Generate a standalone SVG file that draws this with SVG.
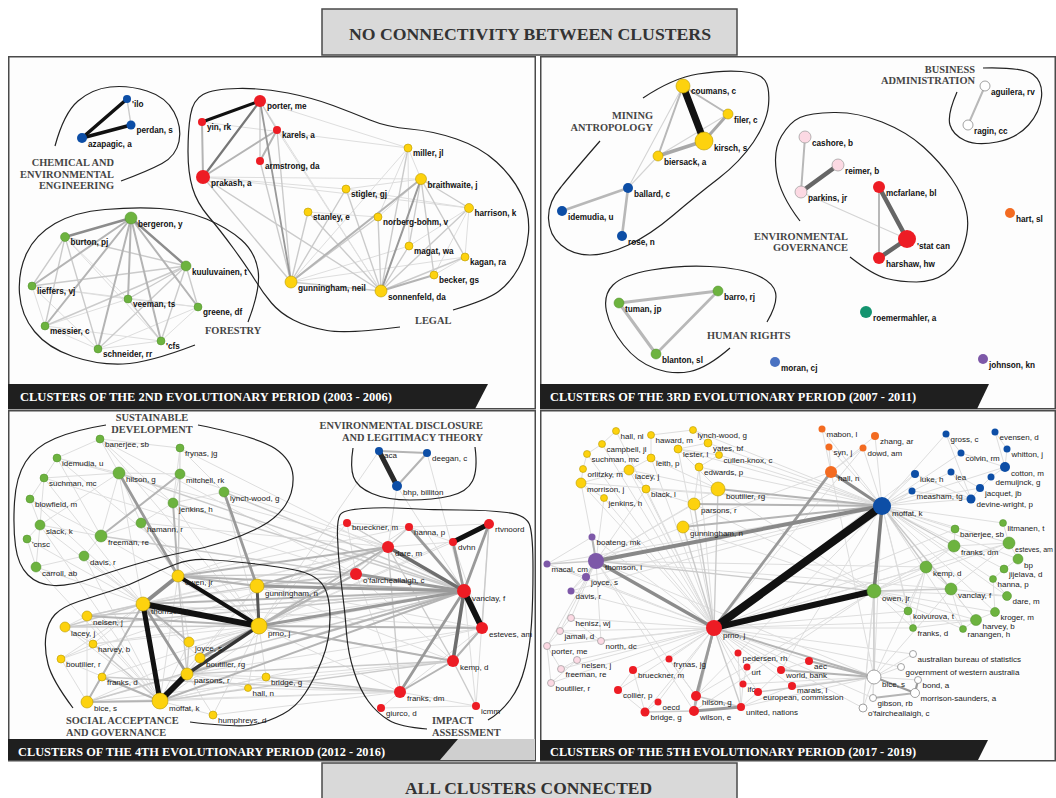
<svg xmlns="http://www.w3.org/2000/svg" width="1056" height="798" viewBox="0 0 1056 798">
<style>
.frame{fill:#fdfdfd;stroke:#4a4a4a;stroke-width:1.5}
.bar{fill:#1f1f1f}
.barend{fill:#cfcfcf}
.head{fill:#d9d9d9;stroke:#4a4a4a;stroke-width:1.5}
.ht{font-family:"Liberation Serif",serif;font-weight:bold;font-size:17px;fill:#333}
.ft{font-family:"Liberation Serif",serif;font-weight:bold;font-size:11.5px;fill:#fff}
.cl{font-family:"Liberation Serif",serif;font-weight:bold;font-size:10.4px;fill:#454545}
.hull{fill:none;stroke:#222;stroke-width:1.2}
.nb text{font-family:"Liberation Sans",Arial,sans-serif;font-weight:bold;font-size:8.2px;fill:#111}
.nr text{font-family:"Liberation Sans",Arial,sans-serif;font-size:8px;fill:#1a1a1a}
.y{fill:#fdd20e;stroke:#b99a00;stroke-width:.6}
.r{fill:#ed1c24}
.g{fill:#6db33f;stroke:#4f8f2a;stroke-width:.5}
.b{fill:#0d4ea6}
.lb{fill:#4a72c2}
.pk{fill:#fcd9e3;stroke:#9a9a9a;stroke-width:.7}
.w{fill:#fff;stroke:#8a8a8a;stroke-width:.8}
.o{fill:#f36b21}
.p{fill:#7d58a8}
.t{fill:#14946f}
.edges{fill:none;stroke-linecap:round}
.l1{stroke:#dedede;stroke-width:1}
.l2{stroke:#cbcbcb;stroke-width:1.4}
.l3{stroke:#b4b4b4;stroke-width:2}
.l4{stroke:#9a9a9a;stroke-width:2.8}
.l5{stroke:#6e6e6e;stroke-width:3.6}
.k{stroke:#111}
</style>

<rect width="1056" height="798" fill="#fff"/>

<!-- panel frames -->
<rect class="frame" x="8.75" y="56.75" width="526.5" height="352"/>
<rect class="frame" x="540.75" y="56.75" width="514.5" height="352"/>
<rect class="frame" x="8.75" y="410.75" width="526.5" height="350"/>
<rect class="frame" x="540.75" y="410.75" width="514.5" height="350"/>

<!-- headers -->
<g id="header-top">
<rect class="head" x="322" y="9" width="415" height="46"/>
<text class="ht" x="349" y="40" textLength="362" lengthAdjust="spacingAndGlyphs">NO CONNECTIVITY BETWEEN CLUSTERS</text>
</g>
<g id="header-bottom">
<rect class="head" x="322" y="763" width="415" height="40"/>
<text class="ht" x="405" y="794" textLength="247" lengthAdjust="spacingAndGlyphs">ALL CLUSTERS CONNECTED</text>
</g>

<!-- ===== connectors ===== -->
<g id="connectors" class="edges">
<!-- period 2 -->
<g id="edges-p2">
<g class="l1">
<path d="M203 177L469 208"/><path d="M203 177L346 189"/><path d="M202 122L408 148"/><path d="M260 101L408 148"/><path d="M260 101L381 291"/><path d="M203 177L421 179"/><path d="M291 282L465 257"/><path d="M308 212L378 217"/><path d="M408 148L378 217"/><path d="M408 148L409 246"/><path d="M346 189L469 208"/><path d="M469 208L465 257"/><path d="M469 208L434 275"/><path d="M469 208L409 246"/><path d="M465 257L434 275"/><path d="M291 282L409 246"/><path d="M291 282L408 148"/><path d="M421 179L346 189"/><path d="M421 179L378 217"/><path d="M421 179L408 148"/><path d="M277 130L381 291"/>
<path d="M32 286L198 307"/><path d="M32 286L45 326"/><path d="M32 286L128 299"/><path d="M32 286L98 349"/><path d="M45 326L128 299"/><path d="M45 326L98 349"/><path d="M45 326L161 341"/><path d="M98 349L161 341"/><path d="M98 349L198 307"/><path d="M161 341L198 307"/><path d="M128 299L198 307"/><path d="M65 237L161 341"/><path d="M65 237L128 299"/>
</g>
<g class="l2">
<path d="M277 130L291 282"/><path d="M260 161L291 282"/><path d="M203 177L291 282"/><path d="M203 177L381 291"/><path d="M291 282L381 291"/><path d="M291 282L346 189"/><path d="M291 282L378 217"/><path d="M381 291L408 148"/><path d="M381 291L346 189"/><path d="M381 291L308 212"/><path d="M381 291L378 217"/><path d="M381 291L409 246"/><path d="M381 291L465 257"/><path d="M381 291L469 208"/><path d="M421 179L469 208"/><path d="M421 179L409 246"/><path d="M421 179L465 257"/><path d="M421 179L434 275"/><path d="M308 212L291 282"/>
<path d="M65 237L186 266"/><path d="M65 237L32 286"/><path d="M65 237L45 326"/><path d="M65 237L98 349"/><path d="M186 266L32 286"/><path d="M186 266L128 299"/><path d="M186 266L45 326"/><path d="M186 266L98 349"/><path d="M186 266L161 341"/><path d="M186 266L198 307"/><path d="M128 299L161 341"/>
<path d="M127 99L131 125"/><path d="M260 101L277 130"/><path d="M260 101L260 161"/>
</g>
<g class="l3">
<path d="M202 122L203 177"/><path d="M277 130L203 177"/><path d="M277 130L260 161"/><path d="M291 282L421 179"/><path d="M381 291L434 275"/><path d="M131 218L32 286"/><path d="M131 218L45 326"/><path d="M131 218L128 299"/><path d="M131 218L198 307"/><path d="M131 218L161 341"/><path d="M131 218L98 349"/>
</g>
<path d="M260 101L291 282" stroke="#999" stroke-width="1.8"/>
<path d="M260 101L203 177" stroke="#777" stroke-width="2.2"/>
<path d="M381 291L421 179" stroke="#999" stroke-width="2"/>
<path d="M131 218L65 237" stroke="#8c8c8c" stroke-width="2.4"/>
<path d="M131 218L186 266" stroke="#8c8c8c" stroke-width="2.4"/>
<g class="k">
<path d="M260 101L202 122" stroke-width="3"/>
<path d="M127 99L82 138" stroke-width="3.5"/>
<path d="M131 125L82 138" stroke-width="3.5"/>
</g>
</g>

<!-- period 3 -->
<g id="edges-p3">
<g stroke="#d4d4d4" stroke-width="1.1">
<path d="M683 86L628 188"/><path d="M658 156L628 188"/><path d="M728 114L658 156"/><path d="M801 192L907 239"/>
</g>
<g stroke="#b8b8b8">
<path d="M683 86L728 114" stroke-width="2"/><path d="M683 86L658 156" stroke-width="2"/><path d="M628 188L562 211" stroke-width="2.6"/><path d="M628 188L622 236" stroke-width="2.6"/><path d="M619 303L718 291" stroke-width="3"/><path d="M619 303L656 354" stroke-width="3"/><path d="M718 291L656 354" stroke-width="2.6"/><path d="M805 137L801 192" stroke-width="2"/><path d="M879 187L879 258" stroke-width="2"/><path d="M985 86L968 125" stroke-width="2"/>
</g>
<path d="M728 114L704 141" stroke="#a8a8a8" stroke-width="3"/>
<path d="M704 141L658 156" stroke="#a8a8a8" stroke-width="3.5"/>
<g stroke="#666" stroke-width="4.5">
<path d="M801 192L838 165"/><path d="M879 187L907 239"/><path d="M879 258L907 239"/>
</g>
<path class="k" d="M683 86L704 141" stroke-width="7"/>
</g>

<!-- period 4 -->
<g id="edges-p4">
<g class="l1">
<path d="M100 439L180 448"/><path d="M100 439L57 458"/><path d="M100 439L119 473"/><path d="M57 458L119 473"/><path d="M57 458L44 478"/><path d="M44 478L30 499"/><path d="M44 478L119 473"/><path d="M119 473L180 474"/><path d="M119 473L173 503"/><path d="M119 473L141 523"/><path d="M119 473L40 525"/><path d="M119 473L101 536"/><path d="M180 448L180 474"/><path d="M180 448L173 503"/><path d="M180 474L173 503"/><path d="M173 503L141 523"/><path d="M141 523L101 536"/><path d="M40 525L101 536"/><path d="M40 525L30 499"/><path d="M40 525L27 539"/><path d="M27 539L36 567"/><path d="M36 567L84 556"/><path d="M84 556L101 536"/><path d="M30 499L101 536"/><path d="M100 439L173 503"/><path d="M57 458L101 536"/><path d="M44 478L40 525"/><path d="M36 567L40 525"/><path d="M224 492L180 448"/><path d="M224 492L173 503"/>
<path d="M84 556L143 604"/><path d="M36 567L143 604"/><path d="M40 525L143 604"/><path d="M224 492L259 626"/><path d="M180 448L178 576"/><path d="M100 439L259 626"/><path d="M57 458L259 626"/><path d="M30 499L143 604"/><path d="M44 478L143 604"/><path d="M27 539L143 604"/><path d="M141 523L259 626"/><path d="M101 536L259 626"/><path d="M84 556L160 701"/><path d="M36 567L160 701"/><path d="M40 525L160 701"/><path d="M119 473L160 701"/><path d="M173 503L259 626"/>
<path d="M180 448L464 591"/><path d="M180 474L388 547"/><path d="M141 523L388 547"/><path d="M100 439L356 574"/><path d="M57 458L388 547"/><path d="M44 478L356 574"/>
<path d="M143 604L93 644"/><path d="M143 604L61 659"/><path d="M143 604L102 677"/><path d="M143 604L200 658"/><path d="M259 626L93 644"/><path d="M259 626L189 642"/><path d="M259 626L266 677"/><path d="M259 626L248 688"/><path d="M259 626L87 702"/><path d="M259 626L102 677"/><path d="M259 626L213 715"/><path d="M160 701L87 616"/><path d="M160 701L65 627"/><path d="M160 701L61 659"/><path d="M160 701L189 642"/><path d="M160 701L200 658"/><path d="M160 701L213 715"/><path d="M160 701L248 688"/><path d="M160 701L266 677"/><path d="M187 674L200 658"/><path d="M187 674L213 715"/><path d="M187 674L266 677"/><path d="M187 674L248 688"/><path d="M187 674L87 702"/><path d="M178 576L160 701"/><path d="M178 576L189 642"/><path d="M257 586L187 674"/><path d="M257 586L160 701"/><path d="M87 616L65 627"/><path d="M65 627L93 644"/><path d="M93 644L61 659"/><path d="M102 677L87 702"/><path d="M87 702L61 659"/><path d="M87 616L87 702"/>
<path d="M259 626L409 527"/><path d="M259 626L347 523"/><path d="M259 626L489 524"/><path d="M259 626L453 542"/><path d="M259 626L400 692"/><path d="M143 604L388 547"/><path d="M143 604L356 574"/><path d="M143 604L453 661"/><path d="M143 604L482 628"/><path d="M160 701L400 692"/><path d="M160 701L482 628"/><path d="M160 701L388 547"/><path d="M178 576L409 527"/><path d="M178 576L347 523"/><path d="M257 586L453 661"/><path d="M257 586L482 628"/><path d="M187 674L482 628"/><path d="M187 674L400 692"/><path d="M87 616L388 547"/><path d="M87 702L453 661"/><path d="M93 644L464 591"/><path d="M189 642L464 591"/><path d="M266 677L453 661"/><path d="M248 688L400 692"/><path d="M61 659L388 547"/><path d="M213 715L400 692"/><path d="M87 702L400 692"/>
<path d="M347 523L409 527"/><path d="M347 523L356 574"/><path d="M388 547L453 542"/><path d="M409 527L453 542"/><path d="M347 523L464 591"/><path d="M400 692L482 628"/><path d="M400 692L356 574"/><path d="M381 708L400 692"/><path d="M381 708L476 706"/><path d="M476 706L400 692"/><path d="M476 706L464 591"/><path d="M489 524L476 706"/><path d="M356 574L453 661"/><path d="M409 527L489 524"/><path d="M453 542L482 628"/><path d="M397 486L464 591"/><path d="M397 486L388 547"/><path d="M379 451L259 626"/><path d="M427 453L464 591"/>
</g>
<g class="l2">
<path d="M143 604L87 616"/><path d="M143 604L65 627"/><path d="M259 626L65 627"/><path d="M160 701L93 644"/><path d="M178 576L187 674"/><path d="M257 586L143 604"/><path d="M187 674L189 642"/><path d="M178 576L356 574"/><path d="M257 586L356 574"/><path d="M160 701L453 661"/><path d="M187 674L453 661"/><path d="M87 616L464 591"/><path d="M65 627L464 591"/><path d="M87 702L464 591"/><path d="M200 658L464 591"/><path d="M102 677L400 692"/><path d="M266 677L400 692"/><path d="M347 523L388 547"/><path d="M409 527L388 547"/><path d="M388 547L356 574"/><path d="M400 692L388 547"/><path d="M476 706L453 661"/><path d="M489 524L482 628"/><path d="M388 547L453 661"/><path d="M180 474L178 576"/><path d="M141 523L178 576"/><path d="M101 536L464 591"/><path d="M119 473L464 591"/><path d="M173 503L464 591"/><path d="M224 492L464 591"/>
</g>
<g class="l3">
<path d="M143 604L189 642"/><path d="M259 626L87 616"/><path d="M160 701L102 677"/><path d="M160 701L87 702"/><path d="M143 604L464 591"/><path d="M160 701L464 591"/><path d="M178 576L464 591"/><path d="M187 674L464 591"/><path d="M257 586L388 547"/><path d="M178 576L388 547"/><path d="M259 626L388 547"/><path d="M259 626L356 574"/><path d="M259 626L453 661"/><path d="M259 626L482 628"/><path d="M453 661L482 628"/><path d="M400 692L453 661"/><path d="M173 503L178 576"/><path d="M101 536L180 474"/><path d="M178 576L257 586"/><path d="M379 451L427 453"/><path d="M427 453L397 486"/><path d="M143 604L87 702"/>
</g>
<g class="l4">
<path d="M178 576L143 604" stroke-width="4" stroke="#8a8a8a"/><path d="M119 473L178 576"/><path d="M224 492L257 586"/><path d="M259 626L464 591"/><path d="M257 586L464 591"/><path d="M143 604L187 674"/><path d="M259 626L200 658"/><path d="M453 542L464 591"/><path d="M489 524L464 591"/><path d="M409 527L464 591"/><path d="M356 574L464 591"/><path d="M400 692L464 591"/>
</g>
<g class="l5">
<path d="M388 547L464 591"/><path d="M464 591L453 661"/><path d="M257 586L259 626" stroke="#555" stroke-width="3"/><path d="M187 674L259 626" stroke="#333" stroke-width="3.5"/>
</g>
<g class="k">
<path d="M143 604L259 626" stroke-width="6"/><path d="M143 604L160 701" stroke-width="5"/><path d="M160 701L187 674" stroke-width="6"/><path d="M178 576L259 626" stroke-width="4"/><path d="M464 591L482 628" stroke-width="6"/><path d="M453 542L489 524" stroke-width="5"/><path d="M379 451L397 486" stroke-width="5" stroke="#2a2a2a"/>
</g>
</g>

<!-- period 5 -->
<g id="edges-p5">
<g class="l1">
<path d="M714 628L581 483"/><path d="M714 628L629 470"/><path d="M714 628L646 489"/><path d="M714 628L651 458"/><path d="M714 628L678 449"/><path d="M714 628L699 467"/><path d="M714 628L616 431"/><path d="M714 628L602 444"/><path d="M714 628L587 454"/><path d="M714 628L604 498"/><path d="M714 628L571 618"/><path d="M714 628L560 631"/><path d="M714 628L601 641"/><path d="M714 628L547 646"/><path d="M714 628L577 660"/><path d="M714 628L561 669"/><path d="M714 628L551 683"/><path d="M714 628L571 591"/><path d="M714 628L586 577"/><path d="M714 628L592 537"/><path d="M714 628L547 564"/><path d="M714 628L618 690"/><path d="M714 628L645 712"/><path d="M714 628L658 702"/><path d="M714 628L926 567"/><path d="M714 628L954 546"/><path d="M714 628L1009 543"/><path d="M714 628L955 529"/><path d="M714 628L908 611"/><path d="M714 628L913 628"/><path d="M714 628L976 620"/><path d="M714 628L863 708"/><path d="M714 628L873 698"/><path d="M714 628L901 667"/><path d="M714 628L913 654"/><path d="M714 628L863 448"/><path d="M714 628L915 474"/><path d="M714 628L912 491"/><path d="M714 628L809 661"/><path d="M714 628L792 686"/><path d="M714 628L758 692"/><path d="M714 628L738 653"/><path d="M714 628L669 659"/><path d="M714 628L633 670"/><path d="M714 628L781 670"/><path d="M714 628L743 684"/>
<path d="M882 506L1005 467"/><path d="M882 506L971 499"/><path d="M882 506L980 488"/><path d="M882 506L915 474"/><path d="M882 506L912 491"/><path d="M882 506L951 472"/><path d="M882 506L946 434"/><path d="M882 506L961 453"/><path d="M882 506L875 436"/><path d="M882 506L863 448"/><path d="M882 506L829 447"/><path d="M882 506L822 429"/><path d="M882 506L678 449"/><path d="M882 506L699 467"/><path d="M882 506L719 455"/><path d="M882 506L708 443"/><path d="M882 506L693 430"/><path d="M882 506L646 489"/><path d="M882 506L581 483"/><path d="M882 506L547 564"/><path d="M882 506L586 577"/><path d="M882 506L571 591"/><path d="M882 506L874 677"/><path d="M882 506L1009 543"/><path d="M882 506L1003 523"/><path d="M882 506L955 529"/><path d="M882 506L1018 559"/><path d="M882 506L976 620"/><path d="M882 506L995 612"/><path d="M882 506L908 611"/><path d="M882 506L1007 596"/><path d="M882 506L993 579"/><path d="M882 506L1004 569"/><path d="M882 506L913 628"/><path d="M882 506L963 629"/><path d="M882 506L863 708"/><path d="M882 506L781 670"/><path d="M882 506L696 696"/>
<path d="M874 591L926 567"/><path d="M874 591L954 546"/><path d="M874 591L1009 543"/><path d="M874 591L976 620"/><path d="M874 591L908 611"/><path d="M874 591L913 628"/><path d="M874 591L696 696"/><path d="M874 591L694 711"/><path d="M874 591L694 504"/><path d="M874 591L718 489"/><path d="M874 591L683 527"/><path d="M874 591L1007 596"/><path d="M874 591L995 612"/><path d="M874 591L963 629"/><path d="M874 591L863 708"/><path d="M874 591L873 698"/>
<path d="M596 561L571 591"/><path d="M596 561L683 527"/><path d="M596 561L694 504"/><path d="M596 561L718 489"/><path d="M596 561L581 483"/><path d="M596 561L646 489"/><path d="M596 561L604 498"/><path d="M596 561L696 696"/><path d="M596 561L694 711"/><path d="M596 561L951 589"/><path d="M596 561L926 567"/><path d="M596 561L874 677"/><path d="M596 561L571 618"/><path d="M596 561L601 641"/><path d="M596 561L560 631"/><path d="M596 561L547 646"/>
<path d="M874 677L913 654"/><path d="M874 677L901 667"/><path d="M874 677L918 680"/><path d="M874 677L873 698"/><path d="M874 677L863 708"/><path d="M874 677L792 686"/><path d="M874 677L741 707"/><path d="M874 677L743 684"/><path d="M874 677L951 589"/><path d="M874 677L926 567"/><path d="M874 677L831 472"/>
<path d="M616 431L602 444"/><path d="M602 444L587 454"/><path d="M587 454L583 469"/><path d="M583 469L581 483"/><path d="M581 483L629 470"/><path d="M629 470L651 458"/><path d="M651 458L651 435"/><path d="M651 435L693 430"/><path d="M693 430L708 443"/><path d="M708 443L678 449"/><path d="M678 449L719 455"/><path d="M719 455L699 467"/><path d="M699 467L694 504"/><path d="M718 489L678 449"/><path d="M646 489L694 504"/><path d="M646 489L629 470"/><path d="M604 498L581 483"/><path d="M629 470L718 489"/><path d="M651 458L718 489"/>
<path d="M946 434L961 453"/><path d="M995 432L1007 449"/><path d="M1007 449L1005 467"/><path d="M1005 467L991 477"/><path d="M991 477L980 488"/><path d="M980 488L971 499"/><path d="M971 499L951 472"/><path d="M915 474L971 499"/><path d="M912 491L971 499"/><path d="M961 453L1005 467"/><path d="M946 434L971 499"/><path d="M995 432L1005 467"/><path d="M951 472L980 488"/>
<path d="M822 429L831 472"/><path d="M829 447L831 472"/><path d="M863 448L831 472"/><path d="M875 436L831 472"/><path d="M831 472L683 527"/>
<path d="M954 546L1009 543"/><path d="M954 546L926 567"/><path d="M926 567L951 589"/><path d="M951 589L1009 543"/><path d="M951 589L976 620"/><path d="M951 589L1007 596"/><path d="M976 620L995 612"/><path d="M995 612L993 579"/><path d="M993 579L1007 596"/><path d="M1009 543L1018 559"/><path d="M1018 559L1004 569"/><path d="M1004 569L993 579"/><path d="M1003 523L1009 543"/><path d="M955 529L954 546"/><path d="M908 611L926 567"/><path d="M913 628L976 620"/><path d="M963 629L976 620"/><path d="M951 589L963 629"/><path d="M926 567L913 628"/>
<path d="M618 690L645 712"/><path d="M658 702L645 712"/><path d="M633 670L618 690"/><path d="M633 670L645 712"/><path d="M669 659L696 696"/><path d="M738 653L741 707"/><path d="M747 667L743 684"/><path d="M743 684L741 707"/><path d="M758 692L741 707"/><path d="M781 670L758 692"/><path d="M792 686L741 707"/><path d="M809 661L781 670"/>
<path d="M571 618L560 631"/><path d="M560 631L547 646"/><path d="M547 646L561 669"/><path d="M561 669L577 660"/><path d="M577 660L551 683"/><path d="M551 683L547 646"/><path d="M601 641L560 631"/><path d="M571 618L601 641"/>
<path d="M547 564L592 537"/><path d="M547 564L586 577"/><path d="M586 577L571 591"/>
</g>
<g class="l2">
<path d="M596 561L586 577"/><path d="M596 561L547 564"/><path d="M882 506L954 546"/><path d="M882 506L926 567"/><path d="M714 628L741 707"/><path d="M696 696L741 707"/><path d="M645 712L694 711"/><path d="M874 677L758 692"/><path d="M714 628L683 527"/><path d="M714 628L694 504"/><path d="M714 628L718 489"/><path d="M874 591L596 561"/><path d="M874 591L951 589"/><path d="M874 677L874 591"/><path d="M882 506L951 589"/>
</g>
<g class="l3">
<path d="M882 506L683 527"/><path d="M882 506L694 504"/><path d="M882 506L718 489"/><path d="M714 628L874 677"/><path d="M874 677L781 670"/><path d="M874 677L809 661"/><path d="M696 696L694 711"/><path d="M714 628L694 711"/><path d="M873 698L915 693"/><path d="M596 561L592 537"/>
</g>
<g class="l4">
<path d="M714 628L696 696"/><path d="M694 711L741 707"/><path d="M874 677L915 693" stroke-width="2.2"/><path d="M918 680L915 693" stroke-width="2.2"/><path d="M831 472L714 628"/><path d="M596 561L714 628" stroke-width="3.4" stroke="#8c8c8c"/>
<path d="M882 506L874 591" stroke="#7a7a7a" stroke-width="3.5"/><path d="M882 506L831 472" stroke="#8a8a8a" stroke-width="3.2"/><path d="M882 506L596 561" stroke="#888" stroke-width="4"/>
</g>
<g class="k">
<path d="M882 506L714 628" stroke-width="8"/>
<path d="M874 591L714 628" stroke-width="6"/>
</g>
</g>
</g>

<!-- ===== cluster outlines ===== -->
<g id="outlines">
<path class="hull" d="M55 146Q64 113 78 101Q92 89 110 87Q128 85 147 91Q166 97 174 112Q182 127 179 141.5Q176 156 162 163.5Q148 171 121 181"/>
<path class="hull" d="M400 327Q347 334 327 330.5Q307 327 293.5 320Q280 313 271.5 303Q263 293 255 280Q247 267 233.5 248.5Q220 230 208.5 216.5Q197 203 192.5 188Q188 173 188 151.5Q188 130 190.5 115Q193 100 203 94.5Q213 89 238 88.5Q263 88 288 93Q313 98 333 105.5Q353 113 370 120Q387 127 410 129Q433 131 456.5 139Q480 147 496.5 162Q513 177 521.5 195Q530 213 528.5 233Q527 253 518.5 268Q510 283 498.5 291.5Q487 300 453 310"/>
<path class="hull" d="M248 322Q261 288 258 270Q255 252 241.5 240Q228 228 206.5 219Q185 210 160 208.5Q135 207 105 209.5Q75 212 55 223.5Q35 235 26.5 253.5Q18 272 19.5 293.5Q21 315 34.5 331.5Q48 348 73 356.5Q98 365 123 364Q148 363 195 345"/>
<path class="hull" d="M643 98Q673 78 698 74Q723 70 741.5 71.5Q760 73 765 80.5Q770 88 768.5 105Q767 122 753.5 142Q740 162 718.5 178.5Q697 195 673.5 215Q650 235 628.5 245Q607 255 590 255Q573 255 561 245Q549 235 548.5 218.5Q548 202 561 187Q573 172 600 141"/>
<path class="hull" d="M767 322Q778 303 775.5 292.5Q773 282 756.5 275Q740 268 710 266.5Q680 265 651.5 270Q623 275 613 285Q603 295 606.5 311.5Q610 328 623.5 345Q637 362 655 368.5Q673 375 690 371.5Q707 368 730 348"/>
<path class="hull" d="M800 221Q780 195 776.5 172.5Q773 150 781.5 136Q790 122 800 117.5Q810 113 833.5 112.5Q857 112 882 122Q907 132 923.5 147Q940 162 951.5 178.5Q963 195 966.5 211.5Q970 228 963.5 246.5Q957 265 945 273.5Q933 282 916.5 282Q900 282 886.5 278.5Q873 275 850 257"/>
<path class="hull" d="M983 68Q1023 67 1033 74.5Q1043 82 1041.5 97Q1040 112 1028.5 125Q1017 138 997 142Q977 146 965 140.5Q953 135 950 125Q947 115 957 92"/>
<path class="hull" d="M106 425Q75 430 55 438.5Q35 447 25.5 462Q16 477 14.5 502Q13 527 15.5 546Q18 565 28 575Q38 585 54 585.5Q70 586 90 579Q110 572 135 564.5Q160 557 182.5 552.5Q205 548 225 541.5Q245 535 261 526.5Q277 518 285.5 505Q294 492 293 476Q292 460 275 448.5Q258 437 198 425"/>
<path class="hull" d="M73 708Q52 680 48 664Q44 648 46 635Q48 622 55 614.5Q62 607 78.5 601.5Q95 596 112.5 590.5Q130 585 145 577.5Q160 570 175 564.5Q190 559 205 559.5Q220 560 247.5 563Q275 566 295 570Q315 574 322.5 584.5Q330 595 330 617.5Q330 640 322 660Q314 680 305 693.5Q296 707 283 714Q270 721 255 724.5Q240 728 190 722"/>
<path class="hull" d="M353 448Q350 467 353.5 477Q357 487 372 493.5Q387 500 410 500Q433 500 450 496Q467 492 472.5 481Q478 470 475 447"/>
<path class="hull" d="M427 729Q400 727 388.5 720Q377 713 368.5 701.5Q360 690 354 671.5Q348 653 346.5 633Q345 613 343.5 601.5Q342 590 340 571.5Q338 553 337.5 536.5Q337 520 340 515Q343 510 363 508.5Q383 507 408 508.5Q433 510 460 510Q487 510 507 512.5Q527 515 530 526Q533 537 533 568.5Q533 600 531.5 623.5Q530 647 525 667Q520 687 510 700Q500 713 488 720"/>
</g>

<!-- ===== cluster labels ===== -->
<g id="cluster-labels" class="cl">
<text x="114" y="166" text-anchor="end">CHEMICAL AND</text>
<text x="114" y="177.5" text-anchor="end">ENVIRONMENTAL</text>
<text x="114" y="189" text-anchor="end">ENGINEERING</text>
<text x="205" y="334">FORESTRY</text>
<text x="415" y="324">LEGAL</text>
<text x="653" y="119" text-anchor="end">MINING</text>
<text x="653" y="130.5" text-anchor="end">ANTROPOLOGY</text>
<text x="707" y="339">HUMAN RIGHTS</text>
<text x="848" y="240" text-anchor="end">ENVIRONMENTAL</text>
<text x="848" y="251" text-anchor="end">GOVERNANCE</text>
<text x="975" y="72.5" text-anchor="end">BUSINESS</text>
<text x="975" y="83.5" text-anchor="end">ADMINISTRATION</text>
<text x="152" y="421" text-anchor="middle">SUSTAINABLE</text>
<text x="152" y="433" text-anchor="middle">DEVELOPMENT</text>
<text x="483" y="429" text-anchor="end">ENVIRONMENTAL DISCLOSURE</text>
<text x="483" y="441" text-anchor="end">AND LEGITIMACY THEORY</text>
<text x="66" y="723.5">SOCIAL ACCEPTANCE</text>
<text x="66" y="735.5">AND GOVERNANCE</text>
<text x="432" y="724">IMPACT</text>
<text x="432" y="736">ASSESSMENT</text>
</g>

<!-- ===== nodes: period 2 ===== -->
<g id="nodes-p2" class="nb">
<g id="a-ilo" transform="translate(127,99)"><circle r="4" class="b"/><text x="5" y="8">'ilo</text></g>
<g id="a-perdan" transform="translate(131,125)"><circle r="4.5" class="b"/><text x="5.5" y="8.3">perdan, s</text></g>
<g id="a-azapagic" transform="translate(82,138)"><circle r="5" class="b"/><text x="6" y="8.5">azapagic, a</text></g>
<g id="a-porter" transform="translate(260,101)"><circle r="6" class="r"/><text x="7" y="8">porter, me</text></g>
<g id="a-yin" transform="translate(202,122)"><circle r="4" class="r"/><text x="5" y="8">yin, rk</text></g>
<g id="a-karels" transform="translate(277,130)"><circle r="4" class="r"/><text x="5" y="8">karels, a</text></g>
<g id="a-armstrong" transform="translate(260,161)"><circle r="4" class="r"/><text x="5" y="8">armstrong, da</text></g>
<g id="a-prakash" transform="translate(203,177)"><circle r="7" class="r"/><text x="8" y="9">prakash, a</text></g>
<g id="a-miller" transform="translate(408,148)"><circle r="4" class="y"/><text x="5" y="8">miller, jl</text></g>
<g id="a-braithwaite" transform="translate(421,179)"><circle r="5.5" class="y"/><text x="6.5" y="8.8">braithwaite, j</text></g>
<g id="a-stigler" transform="translate(346,189)"><circle r="4" class="y"/><text x="5" y="8">stigler, gj</text></g>
<g id="a-stanley" transform="translate(308,212)"><circle r="4" class="y"/><text x="5" y="8">stanley, e</text></g>
<g id="a-norberg" transform="translate(378,217)"><circle r="4" class="y"/><text x="5" y="8">norberg-bohm, v</text></g>
<g id="a-harrison" transform="translate(469,208)"><circle r="4.5" class="y"/><text x="5.5" y="8.3">harrison, k</text></g>
<g id="a-magat" transform="translate(409,246)"><circle r="4" class="y"/><text x="5" y="8">magat, wa</text></g>
<g id="a-kagan" transform="translate(465,257)"><circle r="4" class="y"/><text x="5" y="8">kagan, ra</text></g>
<g id="a-becker" transform="translate(434,275)"><circle r="4" class="y"/><text x="5" y="8">becker, gs</text></g>
<g id="a-gunningham" transform="translate(291,282)"><circle r="6" class="y"/><text x="7" y="9">gunningham, neil</text></g>
<g id="a-sonnenfeld" transform="translate(381,291)"><circle r="6" class="y"/><text x="7" y="9">sonnenfeld, da</text></g>
<g id="a-bergeron" transform="translate(131,218)"><circle r="6" class="g"/><text x="7" y="9">bergeron, y</text></g>
<g id="a-burton" transform="translate(65,237)"><circle r="4.5" class="g"/><text x="5.5" y="8.3">burton, pj</text></g>
<g id="a-kuuluvainen" transform="translate(186,266)"><circle r="5" class="g"/><text x="6" y="8.5">kuuluvainen, t</text></g>
<g id="a-lieffers" transform="translate(32,286)"><circle r="4" class="g"/><text x="5" y="8">lieffers, vj</text></g>
<g id="a-veeman" transform="translate(128,299)"><circle r="4" class="g"/><text x="5" y="8">veeman, ts</text></g>
<g id="a-greene" transform="translate(198,307)"><circle r="4" class="g"/><text x="5" y="8">greene, df</text></g>
<g id="a-messier" transform="translate(45,326)"><circle r="4" class="g"/><text x="5" y="8">messier, c</text></g>
<g id="a-cfs" transform="translate(161,341)"><circle r="4" class="g"/><text x="5" y="8">'cfs</text></g>
<g id="a-schneider" transform="translate(98,349)"><circle r="4" class="g"/><text x="5" y="8">schneider, rr</text></g>
</g>

<!-- ===== nodes: period 3 ===== -->
<g id="nodes-p3" class="nb">
<g id="b-coumans" transform="translate(683,86)"><circle r="7" class="y"/><text x="8" y="8">coumans, c</text></g>
<g id="b-filer" transform="translate(728,114)"><circle r="5" class="y"/><text x="6" y="8.5">filer, c</text></g>
<g id="b-kirsch" transform="translate(704,141)"><circle r="9" class="y"/><text x="10" y="9.5">kirsch, s</text></g>
<g id="b-biersack" transform="translate(658,156)"><circle r="5" class="y"/><text x="6" y="8.5">biersack, a</text></g>
<g id="b-ballard" transform="translate(628,188)"><circle r="5" class="b"/><text x="6" y="8.5">ballard, c</text></g>
<g id="b-idemudia" transform="translate(562,211)"><circle r="5" class="b"/><text x="6" y="8.5">idemudia, u</text></g>
<g id="b-rose" transform="translate(622,236)"><circle r="5" class="b"/><text x="6" y="8.5">rose, n</text></g>
<g id="b-tuman" transform="translate(619,303)"><circle r="5" class="g"/><text x="6" y="8.5">tuman, jp</text></g>
<g id="b-barro" transform="translate(718,291)"><circle r="5" class="g"/><text x="6" y="8.5">barro, rj</text></g>
<g id="b-blanton" transform="translate(656,354)"><circle r="5" class="g"/><text x="6" y="8.5">blanton, sl</text></g>
<g id="b-moran" transform="translate(775,362)"><circle r="5" class="lb"/><text x="6" y="8.5">moran, cj</text></g>
<g id="b-aguilera" transform="translate(985,86)"><circle r="5" class="w"/><text x="6" y="8.5">aguilera, rv</text></g>
<g id="b-ragin" transform="translate(968,125)"><circle r="5" class="w"/><text x="6" y="8.5">ragin, cc</text></g>
<g id="b-cashore" transform="translate(805,137)"><circle r="6" class="pk"/><text x="7" y="9">cashore, b</text></g>
<g id="b-reimer" transform="translate(838,165)"><circle r="6" class="pk"/><text x="7" y="9">reimer, b</text></g>
<g id="b-parkins" transform="translate(801,192)"><circle r="6" class="pk"/><text x="7" y="9">parkins, jr</text></g>
<g id="b-mcfarlane" transform="translate(879,187)"><circle r="6" class="r"/><text x="7" y="9">mcfarlane, bl</text></g>
<g id="b-statcan" transform="translate(907,239)"><circle r="9" class="r"/><text x="10" y="10">'stat can</text></g>
<g id="b-harshaw" transform="translate(879,258)"><circle r="6" class="r"/><text x="7" y="9">harshaw, hw</text></g>
<g id="b-hart" transform="translate(1010,213)"><circle r="5" class="o"/><text x="6" y="8.5">hart, sl</text></g>
<g id="b-roemermahler" transform="translate(866,312)"><circle r="6" class="t"/><text x="7" y="9">roemermahler, a</text></g>
<g id="b-johnson" transform="translate(983,359)"><circle r="5" class="p"/><text x="6" y="8.5">johnson, kn</text></g>
</g>

<!-- ===== nodes: period 4 ===== -->
<g id="nodes-p4" class="nr">
<g id="c-banerjee" transform="translate(100,439)"><circle r="4" class="g"/><text x="5" y="8">banerjee, sb</text></g>
<g id="c-frynas" transform="translate(180,448)"><circle r="4" class="g"/><text x="5" y="8">frynas, jg</text></g>
<g id="c-idemudia" transform="translate(57,458)"><circle r="4" class="g"/><text x="5" y="8">idemudia, u</text></g>
<g id="c-hilson" transform="translate(119,473)"><circle r="6" class="g"/><text x="7" y="9">hilson, g</text></g>
<g id="c-mitchell" transform="translate(180,474)"><circle r="5" class="g"/><text x="6" y="8.5">mitchell, rk</text></g>
<g id="c-suchman" transform="translate(44,478)"><circle r="4" class="g"/><text x="5" y="8">suchman, mc</text></g>
<g id="c-lynchwood" transform="translate(224,492)"><circle r="5" class="g"/><text x="6" y="8.5">lynch-wood, g</text></g>
<g id="c-blowfield" transform="translate(30,499)"><circle r="4" class="g"/><text x="5" y="8">blowfield, m</text></g>
<g id="c-jenkins" transform="translate(173,503)"><circle r="5" class="g"/><text x="6" y="8.5">jenkins, h</text></g>
<g id="c-hamann" transform="translate(141,523)"><circle r="5" class="g"/><text x="6" y="8.5">hamann, r</text></g>
<g id="c-slack" transform="translate(40,525)"><circle r="5" class="g"/><text x="6" y="8.5">slack, k</text></g>
<g id="c-freeman" transform="translate(101,536)"><circle r="6" class="g"/><text x="7" y="9">freeman, re</text></g>
<g id="c-cnsc" transform="translate(27,539)"><circle r="4" class="g"/><text x="5" y="8">'cnsc</text></g>
<g id="c-davis" transform="translate(84,556)"><circle r="5" class="g"/><text x="6" y="8.5">davis, r</text></g>
<g id="c-carroll" transform="translate(36,567)"><circle r="5" class="g"/><text x="6" y="8.5">carroll, ab</text></g>
<g id="c-owen" transform="translate(178,576)"><circle r="6" class="y"/><text x="7" y="9">owen, jr</text></g>
<g id="c-gunningham" transform="translate(257,586)"><circle r="7" class="y"/><text x="8" y="9.5">gunningham, n</text></g>
<g id="c-thomson" transform="translate(143,604)"><circle r="7" class="y"/><text x="8" y="9.5">thomson, i</text></g>
<g id="c-nelsen" transform="translate(87,616)"><circle r="5" class="y"/><text x="6" y="8.5">nelsen, j</text></g>
<g id="c-lacey" transform="translate(65,627)"><circle r="5" class="y"/><text x="6" y="8.5">lacey, j</text></g>
<g id="c-prno" transform="translate(259,626)"><circle r="8" class="y"/><text x="9" y="10">prno, j</text></g>
<g id="c-joyce" transform="translate(189,642)"><circle r="5" class="y"/><text x="6" y="8.5">joyce, s</text></g>
<g id="c-harvey" transform="translate(93,644)"><circle r="4" class="y"/><text x="5" y="8">harvey, b</text></g>
<g id="c-boutilier-r" transform="translate(61,659)"><circle r="4" class="y"/><text x="5" y="8">boutilier, r</text></g>
<g id="c-boutilier-rg" transform="translate(200,658)"><circle r="5" class="y"/><text x="6" y="8.5">boutilier, rg</text></g>
<g id="c-franks-d" transform="translate(102,677)"><circle r="4" class="y"/><text x="5" y="8">franks, d</text></g>
<g id="c-parsons" transform="translate(187,674)"><circle r="6" class="y"/><text x="7" y="9">parsons, r</text></g>
<g id="c-bridge" transform="translate(266,677)"><circle r="4" class="y"/><text x="5" y="8">bridge, g</text></g>
<g id="c-hall" transform="translate(248,688)"><circle r="3.5" class="y"/><text x="4.5" y="7.8">hall, n</text></g>
<g id="c-bice" transform="translate(87,702)"><circle r="6" class="y"/><text x="7" y="9">bice, s</text></g>
<g id="c-moffat" transform="translate(160,701)"><circle r="8" class="y"/><text x="9" y="10">moffat, k</text></g>
<g id="c-humphreys" transform="translate(213,715)"><circle r="4" class="y"/><text x="5" y="8">humphreys, d</text></g>
<g id="c-aca" transform="translate(379,451)"><circle r="4" class="b"/><text x="5" y="7">aca</text></g>
<g id="c-deegan" transform="translate(427,453)"><circle r="4" class="b"/><text x="5" y="8">deegan, c</text></g>
<g id="c-bhp" transform="translate(397,486)"><circle r="5" class="b"/><text x="6" y="8.5">bhp, billiton</text></g>
<g id="c-brueckner" transform="translate(347,523)"><circle r="4" class="r"/><text x="5" y="7">brueckner, m</text></g>
<g id="c-hanna" transform="translate(409,527)"><circle r="4" class="r"/><text x="5" y="7.5">hanna, p</text></g>
<g id="c-rtvnoord" transform="translate(489,524)"><circle r="5" class="r"/><text x="6" y="7.5">rtvnoord</text></g>
<g id="c-dare" transform="translate(388,547)"><circle r="6" class="r"/><text x="7" y="9">dare, m</text></g>
<g id="c-dvhn" transform="translate(453,542)"><circle r="4" class="r"/><text x="5" y="8">dvhn</text></g>
<g id="c-ofaircheallaigh" transform="translate(356,574)"><circle r="6" class="r"/><text x="7" y="9">o'faircheallaigh, c</text></g>
<g id="c-vanclay" transform="translate(464,591)"><circle r="7" class="r"/><text x="8" y="9.5">vanclay, f</text></g>
<g id="c-esteves" transform="translate(482,628)"><circle r="6" class="r"/><text x="7" y="9">esteves, am</text></g>
<g id="c-kemp" transform="translate(453,661)"><circle r="6" class="r"/><text x="7" y="9">kemp, d</text></g>
<g id="c-franks-dm" transform="translate(400,692)"><circle r="6" class="r"/><text x="7" y="9">franks, dm</text></g>
<g id="c-giurco" transform="translate(381,708)"><circle r="4" class="r"/><text x="5" y="8">giurco, d</text></g>
<g id="c-icmm" transform="translate(476,706)"><circle r="4" class="r"/><text x="5" y="8">icmm</text></g>
</g>

<!-- ===== nodes: period 5 ===== -->
<g id="nodes-p5" class="nr">
<g id="d-hall-nl" transform="translate(616,431)"><circle r="3.5" class="y"/><text x="4.5" y="7.8">hall, nl</text></g>
<g id="d-haward" transform="translate(651,435)"><circle r="3.5" class="y"/><text x="4.5" y="7.8">haward, m</text></g>
<g id="d-lynchwood" transform="translate(693,430)"><circle r="3.5" class="y"/><text x="4.5" y="7.8">lynch-wood, g</text></g>
<g id="d-campbell" transform="translate(602,444)"><circle r="3.5" class="y"/><text x="4.5" y="7.8">campbell, jl</text></g>
<g id="d-yates" transform="translate(708,443)"><circle r="4" class="y"/><text x="5" y="8">yates, bf</text></g>
<g id="d-suchman" transform="translate(587,454)"><circle r="3.5" class="y"/><text x="4.5" y="7.8">suchman, mc</text></g>
<g id="d-leith" transform="translate(651,458)"><circle r="4" class="y"/><text x="5" y="8">leith, p</text></g>
<g id="d-lester" transform="translate(678,449)"><circle r="4" class="y"/><text x="5" y="8">lester, l</text></g>
<g id="d-cullenknox" transform="translate(719,455)"><circle r="3.5" class="y"/><text x="4.5" y="7.8">cullen-knox, c</text></g>
<g id="d-orlitzky" transform="translate(583,469)"><circle r="3.5" class="y"/><text x="4.5" y="7.8">orlitzky, m</text></g>
<g id="d-lacey" transform="translate(629,470)"><circle r="5" class="y"/><text x="6" y="8.5">lacey, j</text></g>
<g id="d-edwards" transform="translate(699,467)"><circle r="4" class="y"/><text x="5" y="8">edwards, p</text></g>
<g id="d-morrison" transform="translate(581,483)"><circle r="5" class="y"/><text x="6" y="8.5">morrison, j</text></g>
<g id="d-black" transform="translate(646,489)"><circle r="4" class="y"/><text x="5" y="8">black, l</text></g>
<g id="d-boutilier-rg" transform="translate(718,489)"><circle r="7" class="y"/><text x="8" y="9.5">boutilier, rg</text></g>
<g id="d-jenkins" transform="translate(604,498)"><circle r="3.5" class="y"/><text x="4.5" y="7.8">jenkins, h</text></g>
<g id="d-parsons" transform="translate(694,504)"><circle r="6" class="y"/><text x="7" y="9">parsons, r</text></g>
<g id="d-gunningham" transform="translate(683,527)"><circle r="6" class="y"/><text x="7" y="9">gunningham, n</text></g>
<g id="d-boateng" transform="translate(592,537)"><circle r="3.5" class="p"/><text x="4.5" y="7.8">boateng, mk</text></g>
<g id="d-thomson" transform="translate(596,561)"><circle r="8" class="p"/><text x="9" y="9">thomson, i</text></g>
<g id="d-macal" transform="translate(547,564)"><circle r="3.5" class="p"/><text x="4.5" y="7.8">macal, cm</text></g>
<g id="d-joyce" transform="translate(586,577)"><circle r="4" class="p"/><text x="5" y="8">joyce, s</text></g>
<g id="d-davis" transform="translate(571,591)"><circle r="3.5" class="p"/><text x="4.5" y="7.8">davis, r</text></g>
<g id="d-henisz" transform="translate(571,618)"><circle r="3.5" class="pk"/><text x="4.5" y="7.8">henisz, wj</text></g>
<g id="d-jamali" transform="translate(560,631)"><circle r="3.5" class="pk"/><text x="4.5" y="7.8">jamali, d</text></g>
<g id="d-north" transform="translate(601,641)"><circle r="3.5" class="pk"/><text x="4.5" y="7.8">north, dc</text></g>
<g id="d-porter" transform="translate(547,646)"><circle r="3.5" class="pk"/><text x="4.5" y="7.8">porter, me</text></g>
<g id="d-nelsen" transform="translate(577,660)"><circle r="3.5" class="pk"/><text x="4.5" y="7.8">nelsen, j</text></g>
<g id="d-freeman" transform="translate(561,669)"><circle r="3.5" class="pk"/><text x="4.5" y="7.8">freeman, re</text></g>
<g id="d-boutilier-r" transform="translate(551,683)"><circle r="3.5" class="pk"/><text x="4.5" y="7.8">boutilier, r</text></g>
<g id="d-prno" transform="translate(714,628)"><circle r="8" class="r"/><text x="9" y="10">prno, j</text></g>
<g id="d-pedersen" transform="translate(738,653)"><circle r="3.5" class="r"/><text x="4.5" y="7.8">pedersen, rh</text></g>
<g id="d-frynas" transform="translate(669,659)"><circle r="3.5" class="r"/><text x="4.5" y="7.8">frynas, jg</text></g>
<g id="d-urt" transform="translate(747,667)"><circle r="3.5" class="r"/><text x="4.5" y="7.8">urt</text></g>
<g id="d-brueckner" transform="translate(633,670)"><circle r="4" class="r"/><text x="5" y="8">brueckner, m</text></g>
<g id="d-worldbank" transform="translate(781,670)"><circle r="4" class="r"/><text x="5" y="8">world, bank</text></g>
<g id="d-ifc" transform="translate(743,684)"><circle r="3.5" class="r"/><text x="4.5" y="7.8">ifc</text></g>
<g id="d-marais" transform="translate(792,686)"><circle r="4" class="r"/><text x="5" y="7">marais, l</text></g>
<g id="d-collier" transform="translate(618,690)"><circle r="4" class="r"/><text x="5" y="8">collier, p</text></g>
<g id="d-european" transform="translate(758,692)"><circle r="4" class="r"/><text x="5" y="8">european, commission</text></g>
<g id="d-hilson" transform="translate(696,696)"><circle r="5" class="r"/><text x="6" y="8.5">hilson, g</text></g>
<g id="d-oecd" transform="translate(658,702)"><circle r="3.5" class="r"/><text x="4.5" y="7.8">oecd</text></g>
<g id="d-united" transform="translate(741,707)"><circle r="4" class="r"/><text x="5" y="8">united, nations</text></g>
<g id="d-bridge" transform="translate(645,712)"><circle r="4.5" class="r"/><text x="5.5" y="8.3">bridge, g</text></g>
<g id="d-wilson" transform="translate(694,711)"><circle r="5" class="r"/><text x="6" y="8.5">wilson, e</text></g>
<g id="d-aec" transform="translate(809,661)"><circle r="4" class="r"/><text x="5" y="8">aec</text></g>
<g id="d-mabon" transform="translate(822,429)"><circle r="3.5" class="o"/><text x="4.5" y="7.8">mabon, l</text></g>
<g id="d-zhang" transform="translate(875,436)"><circle r="4" class="o"/><text x="5" y="8">zhang, ar</text></g>
<g id="d-syn" transform="translate(829,447)"><circle r="3.5" class="o"/><text x="4.5" y="7.8">syn, j</text></g>
<g id="d-dowd" transform="translate(863,448)"><circle r="3.5" class="o"/><text x="4.5" y="7.8">dowd, am</text></g>
<g id="d-hall-n" transform="translate(831,472)"><circle r="6" class="o"/><text x="7" y="9">hall, n</text></g>
<g id="d-gross" transform="translate(946,434)"><circle r="3.5" class="b"/><text x="4.5" y="7.8">gross, c</text></g>
<g id="d-evensen" transform="translate(995,432)"><circle r="3.5" class="b"/><text x="4.5" y="7.8">evensen, d</text></g>
<g id="d-colvin" transform="translate(961,453)"><circle r="3.5" class="b"/><text x="4.5" y="7.8">colvin, rm</text></g>
<g id="d-whitton" transform="translate(1007,449)"><circle r="3.5" class="b"/><text x="4.5" y="7.8">whitton, j</text></g>
<g id="d-cotton" transform="translate(1005,467)"><circle r="5" class="b"/><text x="6" y="8.5">cotton, m</text></g>
<g id="d-luke" transform="translate(915,474)"><circle r="4" class="b"/><text x="5" y="8">luke, h</text></g>
<g id="d-iea" transform="translate(951,472)"><circle r="3.5" class="b"/><text x="4.5" y="7.8">iea</text></g>
<g id="d-demuijnck" transform="translate(991,477)"><circle r="3.5" class="b"/><text x="4.5" y="7.8">demuijnck, g</text></g>
<g id="d-jacquet" transform="translate(980,488)"><circle r="4" class="b"/><text x="5" y="8">jacquet, jb</text></g>
<g id="d-measham" transform="translate(912,491)"><circle r="3.5" class="b"/><text x="4.5" y="7.8">measham, tg</text></g>
<g id="d-devinewright" transform="translate(971,499)"><circle r="4.5" class="b"/><text x="5.5" y="8.3">devine-wright, p</text></g>
<g id="d-moffat" transform="translate(882,506)"><circle r="9" class="b"/><text x="10" y="9.5">moffat, k</text></g>
<g id="d-litmanen" transform="translate(1003,523)"><circle r="3.5" class="g"/><text x="4.5" y="7.8">litmanen, t</text></g>
<g id="d-banerjee" transform="translate(955,529)"><circle r="4" class="g"/><text x="5" y="8">banerjee, sb</text></g>
<g id="d-franks-dm" transform="translate(954,546)"><circle r="6" class="g"/><text x="7" y="9">franks, dm</text></g>
<g id="d-esteves" transform="translate(1009,543)"><circle r="6" class="g"/><text x="6" y="9" textLength="38" lengthAdjust="spacingAndGlyphs">esteves, am</text></g>
<g id="d-bp" transform="translate(1018,559)"><circle r="5" class="g"/><text x="6" y="8.5">bp</text></g>
<g id="d-kemp" transform="translate(926,567)"><circle r="6" class="g"/><text x="7" y="9">kemp, d</text></g>
<g id="d-jijelava" transform="translate(1004,569)"><circle r="4" class="g"/><text x="5" y="8">jijelava, d</text></g>
<g id="d-hanna" transform="translate(993,579)"><circle r="3.5" class="g"/><text x="4.5" y="7.8">hanna, p</text></g>
<g id="d-owen" transform="translate(874,591)"><circle r="7" class="g"/><text x="8" y="9.5">owen, jr</text></g>
<g id="d-vanclay" transform="translate(951,589)"><circle r="6" class="g"/><text x="7" y="9">vanclay, f</text></g>
<g id="d-dare" transform="translate(1007,596)"><circle r="4.5" class="g"/><text x="5.5" y="8.3">dare, m</text></g>
<g id="d-koivurova" transform="translate(908,611)"><circle r="4" class="g"/><text x="5" y="8">koivurova, t</text></g>
<g id="d-kroger" transform="translate(995,612)"><circle r="4.5" class="g"/><text x="5.5" y="8.3">kroger, m</text></g>
<g id="d-harvey" transform="translate(976,620)"><circle r="5.5" class="g"/><text x="6.5" y="8.8">harvey, b</text></g>
<g id="d-franks-d" transform="translate(913,628)"><circle r="3.5" class="g"/><text x="4.5" y="7.8">franks, d</text></g>
<g id="d-ranangen" transform="translate(963,629)"><circle r="3.5" class="g"/><text x="4.5" y="7.8">ranangen, h</text></g>
<g id="d-abs" transform="translate(913,654)"><circle r="3.5" class="w"/><text x="4.5" y="7.8">australian bureau of statistics</text></g>
<g id="d-gowa" transform="translate(901,667)"><circle r="3.5" class="w"/><text x="4.5" y="7.8">government of western australia</text></g>
<g id="d-bice" transform="translate(874,677)"><circle r="7" class="w"/><text x="8" y="9.5">bice, s</text></g>
<g id="d-bond" transform="translate(918,680)"><circle r="3.5" class="w"/><text x="4.5" y="7.8">bond, a</text></g>
<g id="d-morrison-saunders" transform="translate(915,693)"><circle r="4.5" class="w"/><text x="5.5" y="8.3">morrison-saunders, a</text></g>
<g id="d-gibson" transform="translate(873,698)"><circle r="3.5" class="w"/><text x="4.5" y="7.8">gibson, rb</text></g>
<g id="d-ofaircheallaigh" transform="translate(863,708)"><circle r="4" class="w"/><text x="5" y="8">o'faircheallaigh, c</text></g>
</g>

<!-- ===== period footers ===== -->
<g id="footer-p2">
<polygon class="bar" points="8,384 488,384 475,409 8,409"/>
<text class="ft" x="20" y="400.5" textLength="372" lengthAdjust="spacingAndGlyphs">CLUSTERS OF THE 2ND EVOLUTIONARY PERIOD (2003 - 2006)</text>
</g>
<g id="footer-p3">
<polygon class="bar" points="540,384 989,384 977,409 540,409"/>
<text class="ft" x="550" y="401" textLength="366" lengthAdjust="spacingAndGlyphs">CLUSTERS OF THE 3RD EVOLUTIONARY PERIOD (2007 - 2011)</text>
</g>
<g id="footer-p4">
<rect class="barend" x="440" y="739" width="95" height="21"/>
<polygon class="bar" points="8,739 458,739 440,760 8,760"/>
<text class="ft" x="18" y="755.5" textLength="367" lengthAdjust="spacingAndGlyphs">CLUSTERS OF THE 4TH EVOLUTIONARY PERIOD (2012 - 2016)</text>
</g>
<g id="footer-p5">
<polygon class="bar" points="540,740 988,740 978,760 540,760"/>
<text class="ft" x="550" y="756" textLength="366" lengthAdjust="spacingAndGlyphs">CLUSTERS OF THE 5TH EVOLUTIONARY PERIOD (2017 - 2019)</text>
</g>
</svg>
